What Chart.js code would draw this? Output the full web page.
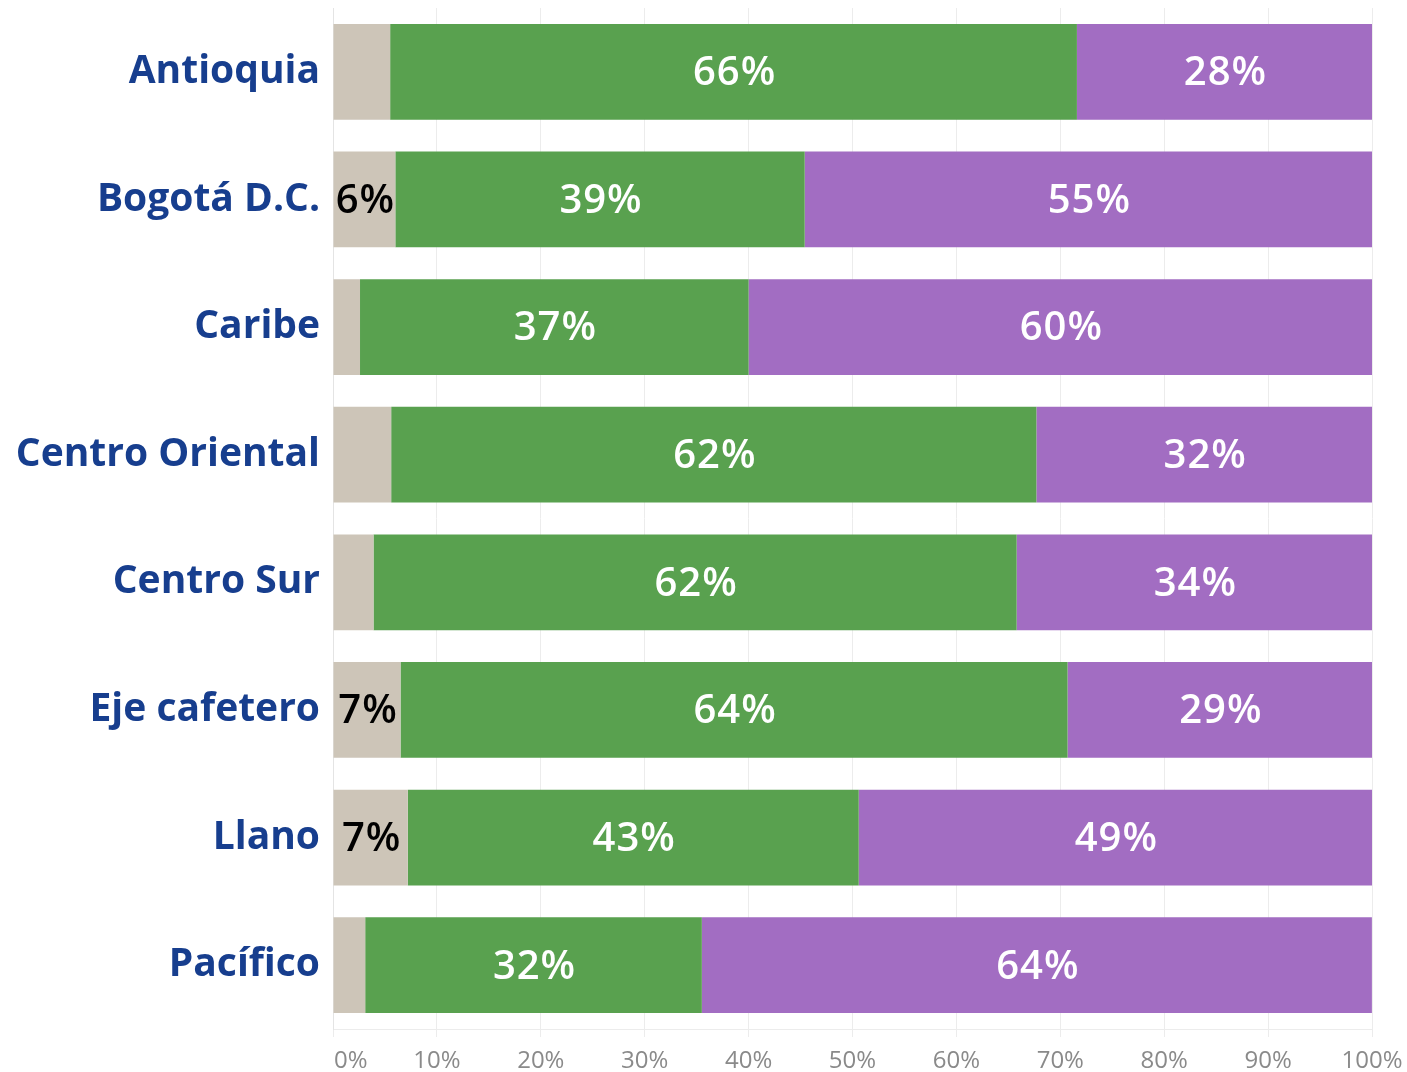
<!DOCTYPE html>
<html>
<head>
<meta charset="utf-8">
<script src="https://cdn.jsdelivr.net/npm/chart.js@4.4.0/dist/chart.umd.min.js"></script>
<style>
  html, body { margin: 0; padding: 0; background: #fff; }
  #wrap { width: 1407px; height: 1072px; }
</style>
</head>
<body>
<div id="wrap"><canvas id="regiones"></canvas></div>
<script>
const regiones = ['Antioquia', 'Bogotá D.C.', 'Caribe', 'Centro Oriental', 'Centro Sur', 'Eje cafetero', 'Llano', 'Pacífico'];
const otros = [5.5, 6.0, 2.6, 5.6, 3.9, 6.5, 7.2, 3.1];
const verde = [66.1, 39.4, 37.4, 62.1, 61.9, 64.2, 43.4, 32.4];
const morado = [28.4, 54.6, 60.0, 32.3, 34.2, 29.3, 49.4, 64.49];
const ticksX = [0, 10, 20, 30, 40, 50, 60, 70, 80, 90, 100];

const colores = ['#cdc5b8', '#59a14f', '#a26dc2'];
const colorTexto = ['#000000', '#ffffff', '#ffffff'];

// etiquetas dentro de cada barra
const etiquetas = {
    id: 'etiquetas',
    afterDatasetsDraw(chart) {
        const ctx = chart.ctx;
        ctx.save();
        ctx.font = '600 40px "Open Sans"';
        ctx.letterSpacing = '1px';
        ctx.textAlign = 'center';
        ctx.textBaseline = 'middle';
        chart.data.datasets.forEach((ds, i) => {
            chart.getDatasetMeta(i).data.forEach((bar, j) => {
                const v = ds.data[j];
                if (i === 0 && v < 5.95) return;
                ctx.fillStyle = colorTexto[i];
                const x = (bar.x + bar.base) / 2 + 1;
                ctx.fillText(Math.round(v) + '%', x, bar.y + 2);
            });
        });
        ctx.restore();
    }
};

// textos del eje x (el 0% va alineado a la izquierda)
const textosX = {
    id: 'textosX',
    afterDraw(chart) {
        const ctx = chart.ctx;
        const sx = chart.scales.x;
        ctx.save();
        ctx.font = '24px "Open Sans"';
        ctx.fillStyle = '#8a8a8a';
        ctx.textBaseline = 'middle';
        ticksX.forEach(v => {
            const x = sx.getPixelForValue(v);
            ctx.textAlign = v === 0 ? 'left' : 'center';
            ctx.fillText(v + '%', v === 0 ? x + 1 : x, sx.bottom - 11);
        });
        ctx.restore();
    }
};

const ctx = document.getElementById('regiones');
new Chart(ctx, {
    type: 'bar',
    data: {
        labels: regiones,
        datasets: [
            { label: 'Otros', data: otros, backgroundColor: colores[0] },
            { label: 'Verde', data: verde, backgroundColor: colores[1] },
            { label: 'Morado', data: morado, backgroundColor: colores[2] }
        ]
    },
    options: {
        indexAxis: 'y',
        responsive: true,
        maintainAspectRatio: false,
        animation: false,
        layout: { padding: { top: 8, right: 35, left: 0, bottom: 0 } },
        plugins: { legend: { display: false }, tooltip: { enabled: false } },
        datasets: { bar: { categoryPercentage: 1, barPercentage: 0.75 } },
        scales: {
            x: {
                stacked: true,
                min: 0,
                max: 100,
                afterBuildTicks(scale) { scale.ticks = ticksX.map(v => ({ value: v })); },
                afterFit(scale) {
                    scale.height = 43;
                    scale.paddingLeft = 0;
                    scale.paddingRight = 0;
                },
                grid: { color: '#ececec', tickLength: 8, drawTicks: true },
                border: { color: '#ececec' },
                ticks: { display: false }
            },
            y: {
                stacked: true,
                afterFit(scale) {
                    scale.width = 333;
                    scale.paddingTop = 0;
                    scale.paddingBottom = 0;
                },
                grid: { display: false },
                border: { color: '#e4e4e4' },
                ticks: {
                    color: '#173e8e',
                    font: { family: 'Open Sans', size: 39, weight: 'bold' },
                    padding: 5
                }
            }
        }
    },
    plugins: [etiquetas, textosX]
});
</script>
</body>
</html>
